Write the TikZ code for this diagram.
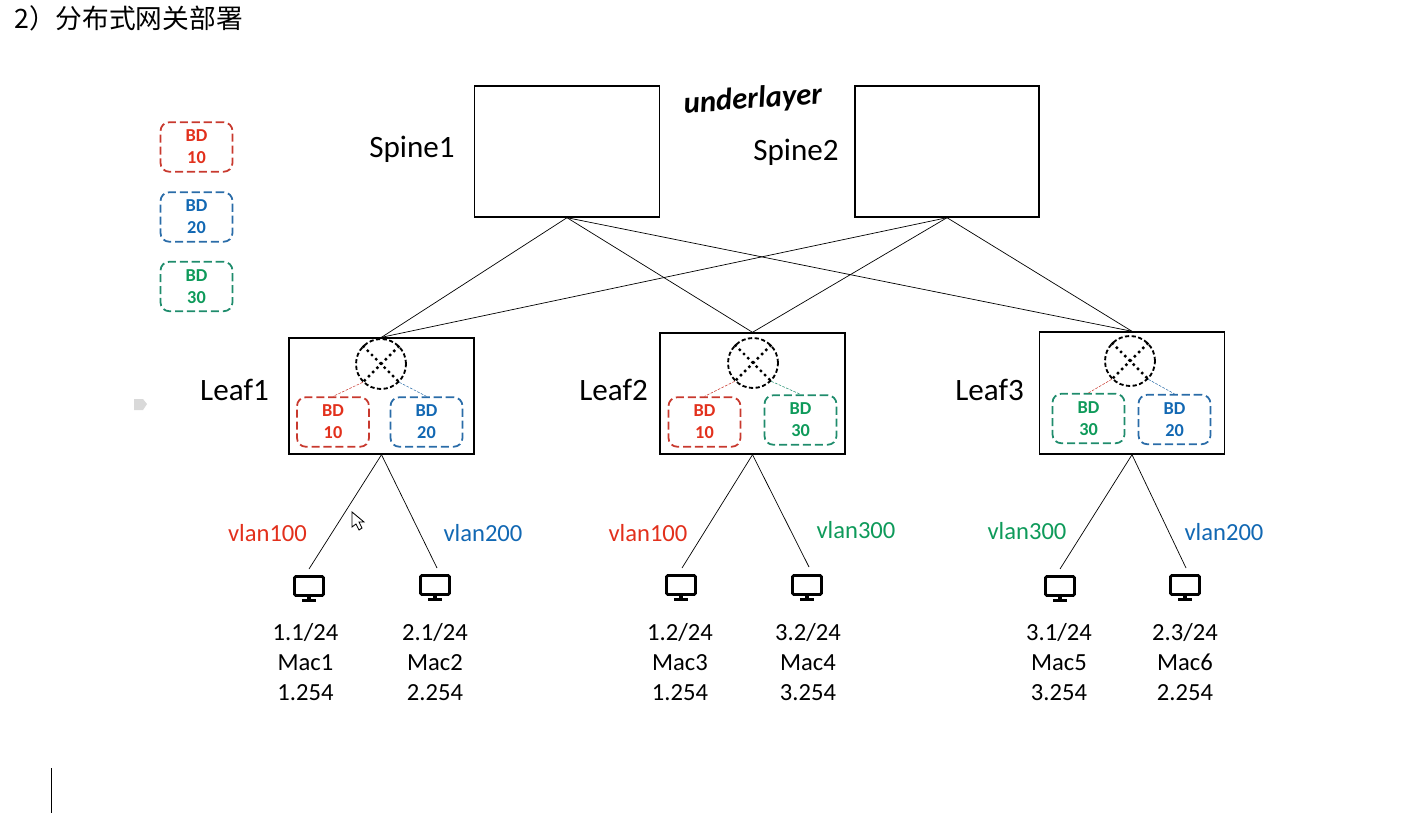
\documentclass[tikz,border=0pt]{standalone}
\usepackage{xcolor}
\usepackage{fontspec}
\usepackage{tikz}
\setmainfont{Carlito}
\newfontfamily\cjk{Noto Sans CJK SC}
\definecolor{bdred}{HTML}{E2301C}
\definecolor{bdredline}{HTML}{C8392E}
\definecolor{bdblue}{HTML}{1268B3}
\definecolor{bdblueline}{HTML}{2A6CA8}
\definecolor{bdgreen}{HTML}{0E9A5A}
\definecolor{bdgreenline}{HTML}{1F8C6C}

\begin{document}
\begin{tikzpicture}[x=0.02cm, y=-0.02cm]
      \tikzstyle{device} = [draw, line width=0.8pt, inner sep=0pt, anchor=center]
      \tikzstyle{spine} = [device, minimum width=3.7cm, minimum height=2.62cm]
      \tikzstyle{leaf} = [device, minimum width=3.7cm]
      \tikzstyle{link} = [line width=0.4pt]
      \tikzstyle{devname} = [font=\fontsize{17.7}{20}\selectfont, inner sep=0pt]
      \tikzstyle{vlan} = [font=\fontsize{14}{17}\selectfont, inner sep=0pt]
      \tikzstyle{host} = [font=\fontsize{14}{17}\selectfont, align=center, inner sep=0pt]
      \tikzstyle{bd} = [rounded corners=5pt, dashed, dash pattern=on 4.6pt off 2.2pt, line width=1pt, minimum width=1.44cm, minimum height=0.99cm, inner sep=0pt, align=center, font=\fontsize{10.4}{12.5}\selectfont\bfseries]
      \tikzstyle{bdr} = [bd, draw=bdredline, text=bdred]
      \tikzstyle{bdb} = [bd, draw=bdblueline, text=bdblue]
      \tikzstyle{bdg} = [bd, draw=bdgreenline, text=bdgreen]
      \tikzstyle{gw} = [circle, draw, dashed, dash pattern=on 2.4pt off 1.4pt, line width=1.05pt, minimum size=1cm, inner sep=0pt]
      \tikzstyle{cross} = [dotted, line width=1.4pt]
      \tikzstyle{tap} = [dashed, dash pattern=on 1.5pt off 0.8pt, line width=0.3pt]
      \tikzstyle{stand} = [line width=1.8pt]
      \tikzstyle{monitor} = [draw, line width=1.6pt, rounded corners=0.8pt, minimum width=0.58cm, minimum height=0.38cm, inner sep=0pt,
        append after command={(\tikzlastnode.south) edge[stand] +(0,4) ([xshift=-0.14cm, yshift=-0.08cm]\tikzlastnode.south) edge[stand] +(14,0)}]

      \useasboundingbox (0,0) rectangle (1426,818);

      \node[anchor=west, inner sep=0pt, font=\cjk\fontsize{15.2}{18}\selectfont] (title) at (14,18) {2）分布式网关部署};

      \node[spine] (spine1) at (567,151.5) {};
      \node[spine, minimum width=3.68cm] (spine2) at (947,151.5) {};
      \node[devname] (spine1name) at (412,149) {Spine1};
      \node[devname] (spine2name) at (796,152) {Spine2};
      \node[inner sep=0pt, rotate=4, font=\fontsize{17.5}{20}\selectfont\bfseries\itshape] (under) at (753,100) {underlayer};

      \node[bdr] (legend1) at (196.5,147) {BD\\10};
      \node[bdb] (legend2) at (196.5,217) {BD\\20};
      \node[bdg] (legend3) at (196.5,286.5) {BD\\30};

      \node[leaf, minimum height=2.32cm] (leaf1) at (381.5,396) {};
      \node[leaf, minimum height=2.42cm] (leaf2) at (752.5,393.5) {};
      \node[leaf, minimum height=2.44cm] (leaf3) at (1132,393) {};
      \node[devname] (leaf1name) at (234.5,390) {Leaf1};
      \node[devname] (leaf2name) at (613.5,390) {Leaf2};
      \node[devname] (leaf3name) at (989.5,390) {Leaf3};

      \draw[link] (spine1.south) -- (leaf1.north);
      \draw[link] (spine1.south) -- (leaf2.north);
      \draw[link] (spine1.south) -- (leaf3.north);
      \draw[link] (spine2.south) -- (leaf1.north);
      \draw[link] (spine2.south) -- (leaf2.north);
      \draw[link] (spine2.south) -- (leaf3.north);

      \node[gw] (gw1) at (381,364) {};
      \node[gw] (gw2) at (753,363) {};
      \node[gw] (gw3) at (1130,361) {};
      \draw[cross] (gw1.45) -- (gw1.225);
      \draw[cross] (gw1.135) -- (gw1.315);
      \draw[cross] (gw2.45) -- (gw2.225);
      \draw[cross] (gw2.135) -- (gw2.315);
      \draw[cross] (gw3.45) -- (gw3.225);
      \draw[cross] (gw3.135) -- (gw3.315);

      \node[bdr] (bd11) at (333,422) {BD\\10};
      \node[bdb] (bd12) at (426.5,422) {BD\\20};
      \node[bdr] (bd21) at (704.5,422) {BD\\10};
      \node[bdg] (bd22) at (800.5,420) {BD\\30};
      \node[bdg] (bd31) at (1088.5,418.5) {BD\\30};
      \node[bdb] (bd32) at (1174.5,419.5) {BD\\20};

      \draw[tap, bdredline] (gw1.225) -- (bd11.north);
      \draw[tap, bdblueline] (gw1.315) -- (bd12.north);
      \draw[tap, bdredline] (gw2.225) -- (bd21.north);
      \draw[tap, bdgreenline] (gw2.315) -- (bd22.north);
      \draw[tap, bdredline] (gw3.225) -- (bd31.north);
      \draw[tap, bdblueline] (gw3.315) -- (bd32.north);

      \node[monitor] (pc1) at (309,586) {};
      \node[monitor] (pc2) at (435,585) {};
      \node[monitor] (pc3) at (681,585) {};
      \node[monitor] (pc4) at (807,585) {};
      \node[monitor] (pc5) at (1060,586) {};
      \node[monitor] (pc6) at (1185,585) {};

      \coordinate (end1) at (309,569);
      \coordinate (end2) at (437,568);
      \coordinate (end3) at (682,568);
      \coordinate (end4) at (809,567);
      \coordinate (end5) at (1060,569);
      \coordinate (end6) at (1186,568);

      \draw[link] (leaf1.south) -- (end1);
      \draw[link] (leaf1.south) -- (end2);
      \draw[link] (leaf2.south) -- (end3);
      \draw[link] (leaf2.south) -- (end4);
      \draw[link] (leaf3.south) -- (end5);
      \draw[link] (leaf3.south) -- (end6);

      \node[vlan, text=bdred] (vlan1) at (267.5,533.5) {vlan100};
      \node[vlan, text=bdblue] (vlan2) at (483,533.5) {vlan200};
      \node[vlan, text=bdred] (vlan3) at (648,533.5) {vlan100};
      \node[vlan, text=bdgreen] (vlan4) at (856,530.5) {vlan300};
      \node[vlan, text=bdgreen] (vlan5) at (1027,531.5) {vlan300};
      \node[vlan, text=bdblue] (vlan6) at (1224,532.5) {vlan200};

      \node[host] (host1) at (305.5,662) {1.1/24\\Mac1\\1.254};
      \node[host] (host2) at (435,662) {2.1/24\\Mac2\\2.254};
      \node[host] (host3) at (680,662) {1.2/24\\Mac3\\1.254};
      \node[host] (host4) at (808,662) {3.2/24\\Mac4\\3.254};
      \node[host] (host5) at (1059,662) {3.1/24\\Mac5\\3.254};
      \node[host] (host6) at (1185,662) {2.3/24\\Mac6\\2.254};

      \draw[line width=0.5pt, fill=white] (352,512) -- (352,527) -- (356,524) -- (359,530) -- (362,528) -- (359,522) -- (364,522) -- cycle;
      \fill[black!15] (134,399) -- (143,399) -- (147,404) -- (143,410) -- (134,410) -- cycle;
      \draw[line width=0.5pt] (51,768) -- (51,813);
    \end{tikzpicture}
\end{document}
